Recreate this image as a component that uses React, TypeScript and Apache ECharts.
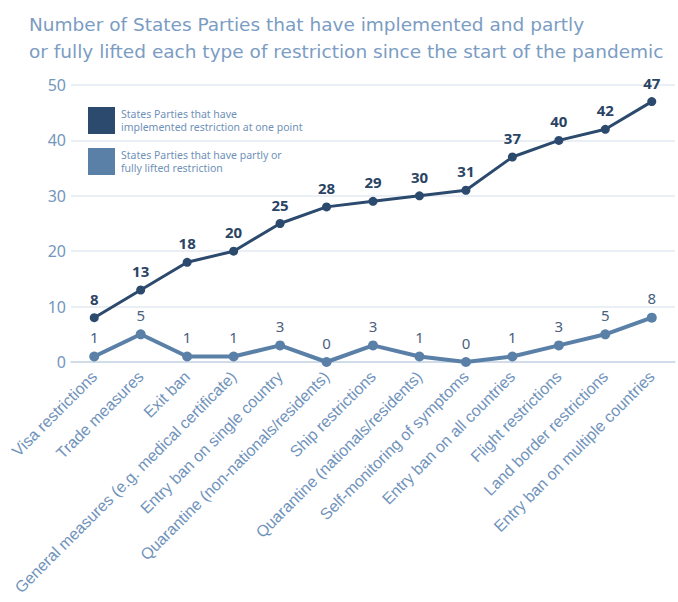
import React, { useEffect, useRef } from "react";
import * as echarts from "echarts";

const categories = [
  "Visa restrictions",
  "Trade measures",
  "Exit ban",
  "General measures (e.g. medical certificate)",
  "Entry ban on single country",
  "Quarantine (non-nationals/residents)",
  "Ship restrictions",
  "Quarantine (nationals/residents)",
  "Self-monitoring of symptoms",
  "Entry ban on all countries",
  "Flight restrictions",
  "Land border restrictions",
  "Entry ban on multiple countries",
];
const implementedValues = [8, 13, 18, 20, 25, 28, 29, 30, 31, 37, 40, 42, 47];
const liftedValues = [1, 5, 1, 1, 3, 0, 3, 1, 0, 1, 3, 5, 8];
const seriesNames = [
  "States Parties that have\nimplemented restriction at one point",
  "States Parties that have partly or\nfully lifted restriction",
];
const titleText =
  "Number of States Parties that have implemented and partly\nor fully lifted each type of restriction since the start of the pandemic";

const FONT = "DejaVu Sans";
const AXFONT = "Liberation Sans";
const DARK = "#2b4a6d";
const LIGHT = "#5b80a8";

export default function App() {
  const ref = useRef<HTMLDivElement>(null);
  useEffect(() => {
    document.body.style.margin = "0";
    const chart = echarts.init(ref.current!, null, { renderer: "svg" });
    chart.setOption({
      animation: false,
      backgroundColor: "#ffffff",
      textStyle: { fontFamily: FONT },
      title: {
        text: titleText,
        left: 29,
        top: 11,
        padding: 0,
        textStyle: {
          fontFamily: FONT,
          fontSize: 18.5,
          fontWeight: "normal",
          color: "#7b9cc3",
          lineHeight: 27,
        },
      },
      legend: {
        orient: "vertical",
        left: 88,
        top: 107,
        padding: 0,
        itemWidth: 27,
        itemHeight: 27,
        itemGap: 14,
        icon: "rect",
        textStyle: { fontFamily: "Noto Sans", fontSize: 10.5, lineHeight: 13, color: "#6f91b8", padding: [0, 0, 0, 1] },
        data: seriesNames,
      },
      grid: { left: 71, right: 3, top: 85, bottom: 240, containLabel: false },
      xAxis: {
        type: "category",
        data: categories,
        boundaryGap: true,
        axisLine: { show: true, lineStyle: { color: "#c8d6e6", width: 1.5 } },
        axisTick: { show: false },
        axisLabel: {
          rotate: 45,
          interval: 0,
          fontSize: 16,
          color: "#7093bb",
          fontFamily: AXFONT,
          margin: 12,
        },
      },
      yAxis: {
        type: "value",
        min: 0,
        max: 50,
        interval: 10,
        axisLine: { show: false },
        axisTick: { show: false },
        axisLabel: { fontSize: 16, color: "#7396bd", fontFamily: "Noto Sans", margin: 5 },
        splitLine: { lineStyle: { color: "#e3eaf2", width: 1.5 } },
      },
      series: [
        {
          name: seriesNames[0],
          type: "line",
          data: implementedValues,
          color: DARK,
          symbol: "circle",
          symbolSize: 9,
          lineStyle: { width: 3, color: DARK },
          itemStyle: { color: DARK },
          label: {
            show: true,
            position: "top",
            distance: 7,
            fontSize: 15,
            fontWeight: "bold",
            color: "#2b4464",
            fontFamily: "Noto Sans",
          },
          z: 3,
        },
        {
          name: seriesNames[1],
          type: "line",
          data: liftedValues,
          color: LIGHT,
          symbol: "circle",
          symbolSize: 10,
          lineStyle: { width: 4, color: LIGHT },
          itemStyle: { color: LIGHT },
          label: {
            show: true,
            position: "top",
            distance: 7,
            fontSize: 15,
            color: "#4a607e",
            fontFamily: "Noto Sans",
          },
          z: 2,
        },
      ],
    });
    return () => chart.dispose();
  }, []);
  return <div ref={ref} style={{ width: 678, height: 602 }} />;
}
